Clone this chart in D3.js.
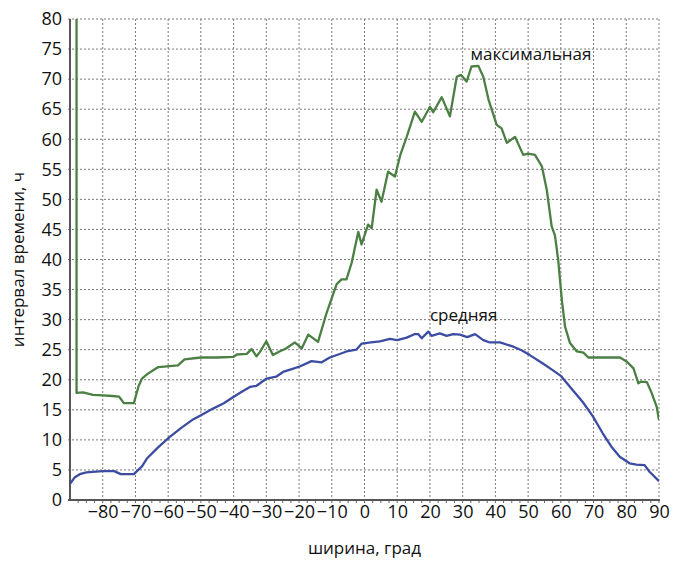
<!DOCTYPE html>
<html>
<head>
<meta charset="utf-8">
<script src="https://cdn.jsdelivr.net/npm/d3@7"></script>
<style>
  body { margin: 0; background: #fff; }
  svg text { font-family: "Open Sans", "Noto Sans", sans-serif; fill: #111; }
</style>
</head>
<body>
<div id="chart"></div>
<script>
// max interval (green)
const maxLat = [-88, -88, -86, -83, -80, -77, -75, -73.5, -70.5, -69, -68, -66.5, -64, -63, -57, -55, -50, -45, -40, -39, -36,
  -34.5, -33, -32, -30, -28, -26, -24, -21.3, -19.2, -17.2, -14.2, -11.6, -8.5, -7, -5.5, -3.9, -1.9, -0.9, 1.1, 2.2,
  3.7, 5.2, 7.2, 9.3, 11, 12.9, 15.4, 17.5, 20, 21, 23.6, 26.1, 28.2, 29.5, 31.2, 32.7, 34.8, 36.3, 37.9, 40.4, 41.9,
  43.5, 46, 48.5, 50, 52.1, 54.2, 55.7, 57.2, 58.2, 59.2, 60.3, 61.3, 62.8, 64.9, 66.9, 68.4, 78.1, 80.2, 82.2, 83.7,
  84.5, 86.3, 87.8, 89.3, 90];
const maxVal = [80, 17.8, 17.9, 17.5, 17.4, 17.3, 17.2, 16.1, 16.1, 19, 20.2, 20.9, 21.8, 22.1, 22.4, 23.4, 23.7, 23.7, 23.8, 24.2, 24.3,
  25.1, 23.9, 24.6, 26.4, 24.1, 24.7, 25.2, 26.2, 25.2, 27.5, 26.3, 31.1, 35.9, 36.7, 36.7, 39.5, 44.6, 42.5, 45.8, 45.2,
  51.6, 49.6, 54.6, 53.8, 57.5, 60.4, 64.6, 62.9, 65.4, 64.5, 67.0, 63.8, 70.4, 70.7, 69.6, 72.1, 72.2, 70.4, 66.6, 62.4, 61.8,
  59.4, 60.4, 57.4, 57.6, 57.4, 55.5, 51.6, 45.5, 44, 39.9, 33.3, 28.8, 26.1, 24.7, 24.5, 23.7, 23.7, 23.0, 21.9, 19.4,
  19.7, 19.6, 17.75, 15.5, 13.3];

// mean interval (blue)
const meanLat = [-90, -88.5, -87, -85, -80, -76.5, -74.5, -70.5, -68, -66.5, -63, -59.5, -56, -52.4, -49, -46.3, -43, -40.2,
  -37.5, -35, -33, -29.9, -27, -24.9, -22, -19.8, -16.2, -13.1, -10.6, -8, -5.5, -2.5, -0.9, 2, 4.7, 7.8, 10, 12.9, 15.4,
  16.4, 17.5, 19.5, 20.5, 23, 25.1, 27.1, 29.2, 31.4, 33.8, 36.3, 38.3, 41.4, 45.5, 48, 50.5, 54.5, 57.5, 60.1, 63.6,
  66.7, 69.8, 72.8, 75.4, 78, 81, 83.1, 85.6, 87.1, 89.7, 90];
const meanVal = [2.7, 3.8, 4.3, 4.6, 4.8, 4.8, 4.3, 4.3, 5.6, 6.9, 8.8, 10.5, 12.0, 13.4, 14.4, 15.2, 16.1, 17.1,
  18.0, 18.8, 19.0, 20.2, 20.5, 21.3, 21.8, 22.2, 23.1, 22.9, 23.7, 24.2, 24.7, 25.0, 26.0, 26.2, 26.4, 26.8, 26.6, 27.0, 27.6,
  27.6, 26.9, 28.0, 27.3, 27.7, 27.3, 27.6, 27.5, 27.1, 27.6, 26.6, 26.2, 26.2, 25.5, 24.9, 24.1, 22.7, 21.6, 20.6, 18.3,
  16.3, 13.9, 11.1, 8.9, 7.2, 6.1, 5.9, 5.8, 4.7, 3.3, 3.1];

const xTicks = [-80, -70, -60, -50, -40, -30, -20, -10, 0, 10, 20, 30, 40, 50, 60, 70, 80, 90];
const yTicks = [0, 5, 10, 15, 20, 25, 30, 35, 40, 45, 50, 55, 60, 65, 70, 75, 80];

const seriesLabels = [
  { text: 'максимальная', lat: 32.4, val: 73.2 },
  { text: 'средняя', lat: 20, val: 29.7 }
];

const W = 684, H = 565;
const margin = { top: 19, right: 25, bottom: 65, left: 70 };
const iw = W - margin.left - margin.right;
const ih = H - margin.top - margin.bottom;

const svg = d3.select('#chart').append('svg')
  .attr('width', W).attr('height', H);

const g = svg.append('g').attr('transform', `translate(${margin.left},${margin.top})`);

const x = d3.scaleLinear().domain([-90, 90]).range([0, iw]);
const y = d3.scaleLinear().domain([0, 80]).range([ih, 0]);

// dotted grid
g.append('g').selectAll('line.vg')
  .data(xTicks)
  .enter().append('line')
  .attr('x1', d => x(d)).attr('x2', d => x(d))
  .attr('y1', 0).attr('y2', ih)
  .attr('stroke', '#7a7a7a').attr('stroke-width', 1).attr('stroke-dasharray', '2,2');

g.append('g').selectAll('line.hg')
  .data(yTicks.filter(d => d > 0))
  .enter().append('line')
  .attr('x1', -2).attr('x2', iw)
  .attr('y1', d => y(d)).attr('y2', d => y(d))
  .attr('stroke', '#7a7a7a').attr('stroke-width', 1).attr('stroke-dasharray', '2,2');

// minor ticks on the bottom axis
g.append('g').selectAll('line.minor')
  .data(d3.range(-87.5, 90.1, 2.5))
  .enter().append('line')
  .attr('x1', d => x(d)).attr('x2', d => x(d))
  .attr('y1', ih).attr('y2', ih + 3)
  .attr('stroke', '#666').attr('stroke-width', 1);

// axes
const xAxis = g.append('g')
  .attr('transform', `translate(0,${ih})`)
  .call(d3.axisBottom(x).tickValues(xTicks).tickSize(0).tickPadding(5));
xAxis.select('.domain').remove();
xAxis.selectAll('text').attr('font-size', 18);

const yAxis = g.append('g')
  .call(d3.axisLeft(y).tickValues(yTicks).tickSize(0).tickPadding(8));
yAxis.select('.domain').remove();
yAxis.selectAll('text').attr('font-size', 18);

g.append('line')
  .attr('x1', 0).attr('x2', 0).attr('y1', 0).attr('y2', ih + 1)
  .attr('stroke', '#555').attr('stroke-width', 2);
g.append('line')
  .attr('x1', -2).attr('x2', iw + 1).attr('y1', ih).attr('y2', ih)
  .attr('stroke', '#555').attr('stroke-width', 2);

// lines
svg.append('defs').append('clipPath').attr('id', 'clip')
  .append('rect').attr('width', iw).attr('height', ih);

const line = d3.line()
  .x(d => x(d[0]))
  .y(d => y(d[1]));

const plot = g.append('g').attr('clip-path', 'url(#clip)');

plot.append('path')
  .datum(d3.zip(maxLat, maxVal))
  .attr('fill', 'none')
  .attr('stroke', '#4b7f44')
  .attr('stroke-width', 2.3)
  .attr('stroke-linejoin', 'round')
  .attr('d', line);

plot.append('path')
  .datum(d3.zip(meanLat, meanVal))
  .attr('fill', 'none')
  .attr('stroke', '#3b4ca2')
  .attr('stroke-width', 2.3)
  .attr('stroke-linejoin', 'round')
  .attr('d', line);

// series labels
g.selectAll('text.series')
  .data(seriesLabels)
  .enter().append('text')
  .attr('class', 'series')
  .attr('x', d => x(d.lat))
  .attr('y', d => y(d.val))
  .attr('font-size', 17)
  .text(d => d.text);

// axis titles
svg.append('text')
  .attr('x', margin.left + iw / 2)
  .attr('y', 554)
  .attr('text-anchor', 'middle')
  .attr('font-size', 17)
  .text('ширина, град');

svg.append('text')
  .attr('transform', `translate(24,${margin.top + ih / 2}) rotate(-90)`)
  .attr('text-anchor', 'middle')
  .attr('font-size', 17)
  .text('интервал времени, ч');
</script>
</body>
</html>
